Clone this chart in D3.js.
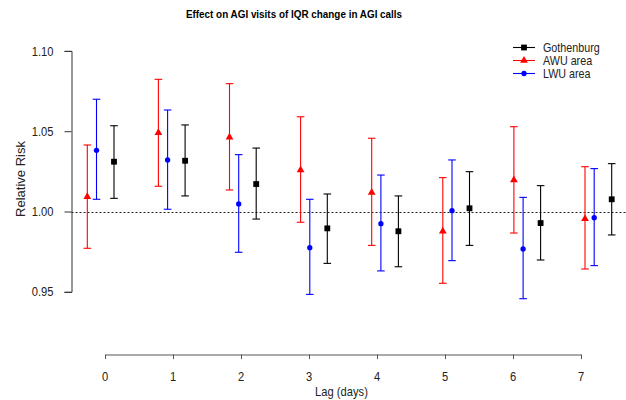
<!DOCTYPE html>
<html>
<head>
<meta charset="utf-8">
<script src="https://cdn.jsdelivr.net/npm/d3@7"></script>
<style>
  body { margin: 0; background: #fff; }
  svg { display: block; font-family: "Liberation Sans", Arial, sans-serif; }
</style>
</head>
<body>
<svg id="chart" width="626" height="400"></svg>
<script>
const lags = [0, 1, 2, 3, 4, 5, 6, 7];

// relative risk with 95% CI
const gothRR = [1.031, 1.0316, 1.0171, 0.9895, 0.9877, 1.002, 0.9928, 1.0076];
const gothLo = [1.0082, 1.0097, 0.9953, 0.9677, 0.9656, 0.9789, 0.9698, 0.9854];
const gothHi = [1.0534, 1.0539, 1.0395, 1.0109, 1.0097, 1.0248, 1.0161, 1.0298];

const awuRR = [1.0092, 1.0491, 1.0462, 1.0258, 1.0119, 0.9877, 1.0196, 0.9955];
const awuLo = [0.9771, 1.0157, 1.0134, 0.9933, 0.9789, 0.9553, 0.9866, 0.9642];
const awuHi = [1.0414, 1.0823, 1.0796, 1.059, 1.0456, 1.0211, 1.0528, 1.0279];

const lwuRR = [1.0381, 1.0321, 1.0047, 0.9775, 0.9924, 1.0005, 0.9767, 0.9961];
const lwuLo = [1.0076, 1.0014, 0.9746, 0.9484, 0.963, 0.9694, 0.9457, 0.9663];
const lwuHi = [1.0699, 1.0632, 1.0354, 1.0076, 1.0227, 1.0321, 1.0088, 1.0267];

const yTicks = [0.95, 1.0, 1.05, 1.1];

const series = [
  { name: 'Gothenburg', rr: gothRR, lo: gothLo, hi: gothHi, color: '#000', shape: 'square', shift: 0 },
  { name: 'AWU area', rr: awuRR, lo: awuLo, hi: awuHi, color: '#ff0000', shape: 'triangle', shift: -26.7 },
  { name: 'LWU area', rr: lwuRR, lo: lwuLo, hi: lwuHi, color: '#0000ff', shape: 'circle', shift: -17.5 },
];

const squeeze = 0.86; // picture text is a bit narrow

const svg = d3.select('#chart');

// Scales
const y = d3.scaleLinear().domain([0.95, 1.10]).range([291.8, 50.9]);
const xAxisScale = d3.scaleLinear().domain([0, 7]).range([105, 581]);
const xPoint = d3.scaleLinear().domain([0, 7]).range([114, 611.7]);

function label(g, txt, x, yy, opts = {}) {
  return g.append('text')
    .attr('transform', `translate(${x},${yy}) scale(${squeeze},1)`)
    .attr('text-anchor', opts.anchor || 'start')
    .attr('font-size', opts.size || 13)
    .attr('font-weight', opts.weight || 'normal')
    .attr('fill', '#222')
    .text(txt);
}

// Title
label(svg, 'Effect on AGI visits of IQR change in AGI calls', 294, 18.3,
  { anchor: 'middle', size: 11.5, weight: 'bold' }).attr('fill', '#000');

// Y axis
const gY = svg.append('g').attr('transform', 'translate(71.5,0)');
gY.call(d3.axisLeft(y).tickValues(yTicks).tickSize(7).tickFormat(''));
gY.select('.domain').attr('stroke', '#333');
gY.selectAll('.tick line').attr('stroke', '#333');
yTicks.forEach((t) => {
  label(svg, d3.format('.2f')(t), 53.5, y(t) + 4.6, { anchor: 'end' });
});
svg.append('text')
  .attr('transform', `translate(25,179) rotate(-90)`)
  .attr('text-anchor', 'middle')
  .attr('font-size', 13)
  .attr('fill', '#222')
  .text('Relative Risk');

// X axis
const gX = svg.append('g').attr('transform', 'translate(0,354.5)');
gX.call(d3.axisBottom(xAxisScale).tickValues(lags).tickSize(4.5).tickFormat(''));
gX.select('.domain').attr('stroke', '#555');
gX.selectAll('.tick line').attr('stroke', '#555');
lags.forEach((l) => {
  label(svg, String(l), xAxisScale(l), 381, { anchor: 'middle' });
});
label(svg, 'Lag (days)', 341.5, 395.5, { anchor: 'middle' });

// Reference line at RR = 1
svg.append('line')
  .attr('x1', 71.5).attr('x2', 626)
  .attr('y1', Math.round(y(1)) + 0.5).attr('y2', Math.round(y(1)) + 0.5)
  .attr('stroke', '#222')
  .attr('stroke-width', 1)
  .attr('stroke-dasharray', '2,2');

const symbols = {
  square: d3.symbol().type(d3.symbolSquare).size(34),
  triangle: d3.symbol().type(d3.symbolTriangle).size(26),
  circle: d3.symbol().type(d3.symbolCircle).size(22),
};

// Error bars + points
const gData = svg.append('g');
series.forEach((s) => {
  const g = gData.append('g');
  const rows = lags.map((l, i) => ({ lag: l, rr: s.rr[i], lo: s.lo[i], hi: s.hi[i] }));
  const px = (d) => xPoint(d.lag) + s.shift;

  g.selectAll('line.bar').data(rows).enter().append('line')
    .attr('class', 'bar')
    .attr('x1', px).attr('x2', px)
    .attr('y1', (d) => y(d.lo)).attr('y2', (d) => y(d.hi))
    .attr('stroke', s.color).attr('stroke-width', 1.1);

  ['lo', 'hi'].forEach((k) => {
    g.selectAll(`line.cap-${k}`).data(rows).enter().append('line')
      .attr('class', `cap-${k}`)
      .attr('x1', (d) => px(d) - 3.8).attr('x2', (d) => px(d) + 3.8)
      .attr('y1', (d) => y(d[k])).attr('y2', (d) => y(d[k]))
      .attr('stroke', s.color).attr('stroke-width', 1.1);
  });

  g.selectAll('path.pt').data(rows).enter().append('path')
    .attr('class', 'pt')
    .attr('d', symbols[s.shape])
    .attr('transform', (d) => `translate(${px(d)},${y(d.rr)})`)
    .attr('fill', s.color);
});

// Legend
const legendY = [47.5, 60.5, 73.5];
const gLeg = svg.append('g');
series.forEach((s, i) => {
  const ly = legendY[i];
  gLeg.append('line')
    .attr('x1', 513).attr('x2', 535)
    .attr('y1', ly).attr('y2', ly)
    .attr('stroke', s.color).attr('stroke-width', 1.1);
  gLeg.append('path')
    .attr('d', symbols[s.shape])
    .attr('transform', `translate(524,${ly})`)
    .attr('fill', s.color);
  label(gLeg, s.name, 543, ly + 4.5, { size: 12.5 });
});
</script>
</body>
</html>
